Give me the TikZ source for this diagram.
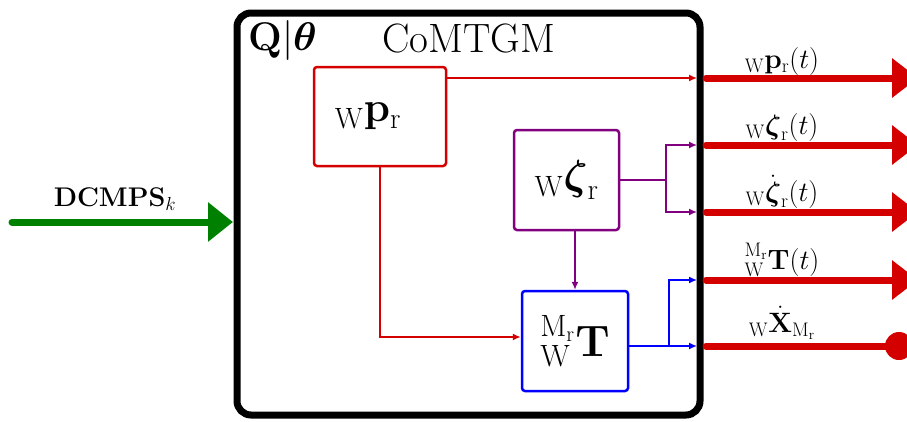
\RequirePackage{fix-cm}
\documentclass[tikz,border=0pt]{standalone}
\usepackage{amsmath}
\usetikzlibrary{arrows.meta,calc}
\definecolor{dred}{RGB}{212,0,0}
\definecolor{dpurple}{RGB}{128,0,128}
\definecolor{dblue}{RGB}{0,0,255}
\definecolor{dgreen}{RGB}{0,128,0}
\begin{document}
\begin{tikzpicture}[x=1pt,y=-1pt,
  blockbox/.style={draw, line width=2.5pt, rounded corners=3pt, inner sep=0pt, text=black},
  conn/.style={line width=1.5pt, -{Latex[length=8pt,width=7pt]}},
  outarrow/.style={line width=7pt, dred, line cap=round, -{Triangle[length=26pt,width=38pt]}},
  txt/.style={inner sep=0pt, text=black},
  lbl/.style={txt, anchor=base, font=\fontsize{28}{32}\selectfont}]
\useasboundingbox (0,0) rectangle (907,421);
\clip (0,0) rectangle (907,421);
% main box
\node[draw, line width=7pt, rounded corners=14pt, minimum width=463pt, minimum height=402pt, inner sep=0pt] (main) at (468.5,214) {};
\node[txt, anchor=base west, font=\fontsize{40}{44}\selectfont] (qt) at (248,50) {$\mathbf{Q}|\boldsymbol{\theta}$};
\node[txt, anchor=base west, font=\fontsize{41}{46}\selectfont] (title) at (382,52) {CoMTGM};
% blocks
\node[blockbox, draw=dred, minimum width=132pt, minimum height=99pt, font=\fontsize{42}{46}\selectfont] (pr) at (380,116.5) {${}_{\mathrm{W}}\mathbf{p}_{\mathrm{r}}$\hspace*{24pt}};
\node[blockbox, draw=dpurple, minimum width=105pt, minimum height=100pt, font=\fontsize{42}{46}\selectfont] (zr) at (566.5,180) {${}_{\mathrm{W}}\boldsymbol{\zeta}_{\mathrm{r}}$};
\node[blockbox, draw=dblue, minimum width=106pt, minimum height=100pt, font=\fontsize{44}{48}\selectfont] (T) at (575,341) {${}^{\mathrm{M_r}}_{\mathrm{W}}\mathbf{T}$};
% coordinates
\coordinate (e1) at (697,78);
\coordinate (e2) at (697,145);
\coordinate (e3) at (697,212);
\coordinate (e4) at (697,280);
\coordinate (e5) at (697,346);
\coordinate (s1) at (706,78);
\coordinate (s2) at (706,145);
\coordinate (s3) at (706,212);
\coordinate (s4) at (706,280);
\coordinate (s5) at (706,346);
\coordinate (f1) at (918,78);
\coordinate (f2) at (918,145);
\coordinate (f3) at (918,212);
\coordinate (f4) at (918,280);
\coordinate (zb) at (666,180);
\coordinate (tb) at (669,346);
\coordinate (gin) at (12,222);
\coordinate (gend) at (233,222);
% inner connectors
\draw[conn, dred] (pr.east |- e1) -- (e1);
\draw[conn, dred] (pr.south) |- ([yshift=4pt]T.west);
\draw[conn, dpurple] (T.north |- zr.south) -- (T.north);
\draw[conn, dpurple] (zr.east) -- (zb) |- (e2);
\draw[conn, dpurple] (zb) |- (e3);
\draw[conn, dblue] (T.east |- e5) -- (e5);
\draw[conn, dblue] (tb) |- (e4);
% input
\draw[line width=7pt, dgreen, line cap=round, -{Triangle[length=25pt,width=38pt]}] (gin) -- (gend);
\node[lbl, font=\fontsize{27}{30}\selectfont] (dl) at (115,206) {$\mathbf{DCMPS}_k$};
% outputs
\draw[outarrow] (s1) -- (f1);
\draw[outarrow] (s2) -- (f2);
\draw[outarrow] (s3) -- (f3);
\draw[outarrow] (s4) -- (f4);
\node[circle, fill=dred, minimum size=28pt, inner sep=0pt] (dot) at (899,346) {};
\draw[line width=7pt, dred, line cap=round] (s5) -- (dot.center);
\node[lbl] (l1) at (782,68) {${}_{\mathrm{W}}\mathbf{p}_{\mathrm{r}}(t)$};
\node[lbl] (l2) at (782,134) {${}_{\mathrm{W}}\boldsymbol{\zeta}_{\mathrm{r}}(t)$};
\node[lbl] (l3) at (782,201) {${}_{\mathrm{W}}\dot{\boldsymbol{\zeta}}_{\mathrm{r}}(t)$};
\node[lbl] (l4) at (782,269) {${}^{\mathrm{M_r}}_{\mathrm{W}}\mathbf{T}(t)$};
\node[lbl] (l5) at (782,332) {${}_{\mathrm{W}}\dot{\mathbf{X}}_{\mathrm{M_r}}$};
\end{tikzpicture}
\end{document}
